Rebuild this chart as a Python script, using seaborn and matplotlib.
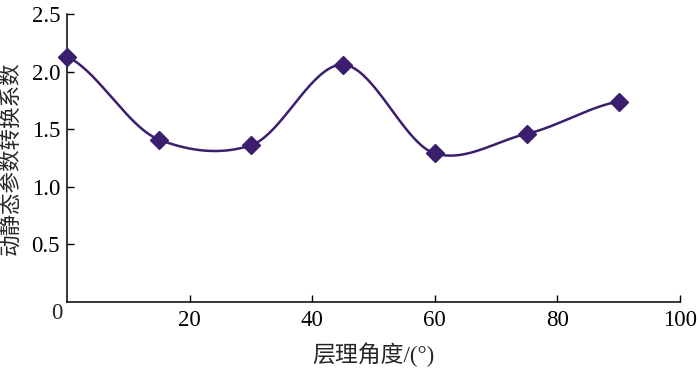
import numpy as np
import pandas as pd
import matplotlib
matplotlib.use("Agg")
import matplotlib.pyplot as plt
import seaborn as sns

# data
angles = [0, 15, 30, 45, 60, 75, 90]
coef = [2.13, 1.41, 1.36, 2.06, 1.29, 1.46, 1.74]
x_ticks = [20, 40, 60, 80, 100]
y_ticks = [0.5, 1.0, 1.5, 2.0, 2.5]
x_label = "层理角度/(°)"
y_label = "动静态参数转换系数"

sns.set_theme(style="ticks")
plt.rcParams["font.family"] = ["Liberation Serif", "Noto Sans CJK SC"]
plt.rcParams["axes.unicode_minus"] = False

COLOR = "#3b1f6e"


def smooth(xs, ys, n=40, k=0.8):
    xs = np.asarray(xs, float)
    ys = np.asarray(ys, float)
    m = np.empty_like(ys)
    m[1:-1] = k * (ys[2:] - ys[:-2]) / (xs[2:] - xs[:-2])
    m[0] = 0.5 * (ys[1] - ys[0]) / (xs[1] - xs[0])
    m[-1] = 0.5 * (ys[-1] - ys[-2]) / (xs[-1] - xs[-2])
    ox, oy = [], []
    for i in range(len(xs) - 1):
        h = xs[i + 1] - xs[i]
        t = np.linspace(0, 1, n, endpoint=(i == len(xs) - 2))
        h00 = 2 * t**3 - 3 * t**2 + 1
        h10 = t**3 - 2 * t**2 + t
        h01 = -2 * t**3 + 3 * t**2
        h11 = t**3 - t**2
        ox.append(xs[i] + t * h)
        oy.append(h00 * ys[i] + h10 * h * m[i] + h01 * ys[i + 1] + h11 * h * m[i + 1])
    return np.concatenate(ox), np.concatenate(oy)


cx, cy = smooth(angles, coef)
curve = pd.DataFrame({"x": cx, "y": cy})
pts = pd.DataFrame({"x": angles, "y": coef})

fig = plt.figure(figsize=(7, 3.68), dpi=100)
ax = fig.add_axes([67 / 700, 1 - 302 / 368, 613 / 700, 288 / 368])

sns.lineplot(data=curve, x="x", y="y", ax=ax, color=COLOR, linewidth=1.8,
             sort=False, estimator=None)
ax.plot(pts["x"], pts["y"], linestyle="none", marker="D", markersize=8.8,
        color=COLOR, clip_on=False, zorder=5)

ax.set_xlim(0, 100)
ax.set_ylim(0, 2.5)
ax.set_xticks(x_ticks)
ax.set_yticks(y_ticks)
ax.set_xticklabels([str(v) for v in x_ticks])
ax.set_yticklabels([f"{v:.1f}" for v in y_ticks])
for s in ["top", "right"]:
    ax.spines[s].set_visible(False)
for s in ["left", "bottom"]:
    ax.spines[s].set_linewidth(1.1)
    ax.spines[s].set_color("black")
ax.tick_params(axis="both", direction="in", length=5, width=1, colors="black",
               labelsize=16.5)
ax.tick_params(axis="x", pad=6)
ax.tick_params(axis="y", pad=5)
ax.text(-0.008, -0.04, "0", transform=ax.transAxes, ha="right", va="center",
        fontsize=16.5)

ax.set_xlabel(x_label, fontsize=16.5)
ax.set_ylabel(y_label, fontsize=15.5)
ax.xaxis.set_label_coords(0.5, -0.14)
ax.yaxis.set_label_coords(-0.074, 0.5)
ax.grid(False)

fig.savefig("out.png", dpi=100)
